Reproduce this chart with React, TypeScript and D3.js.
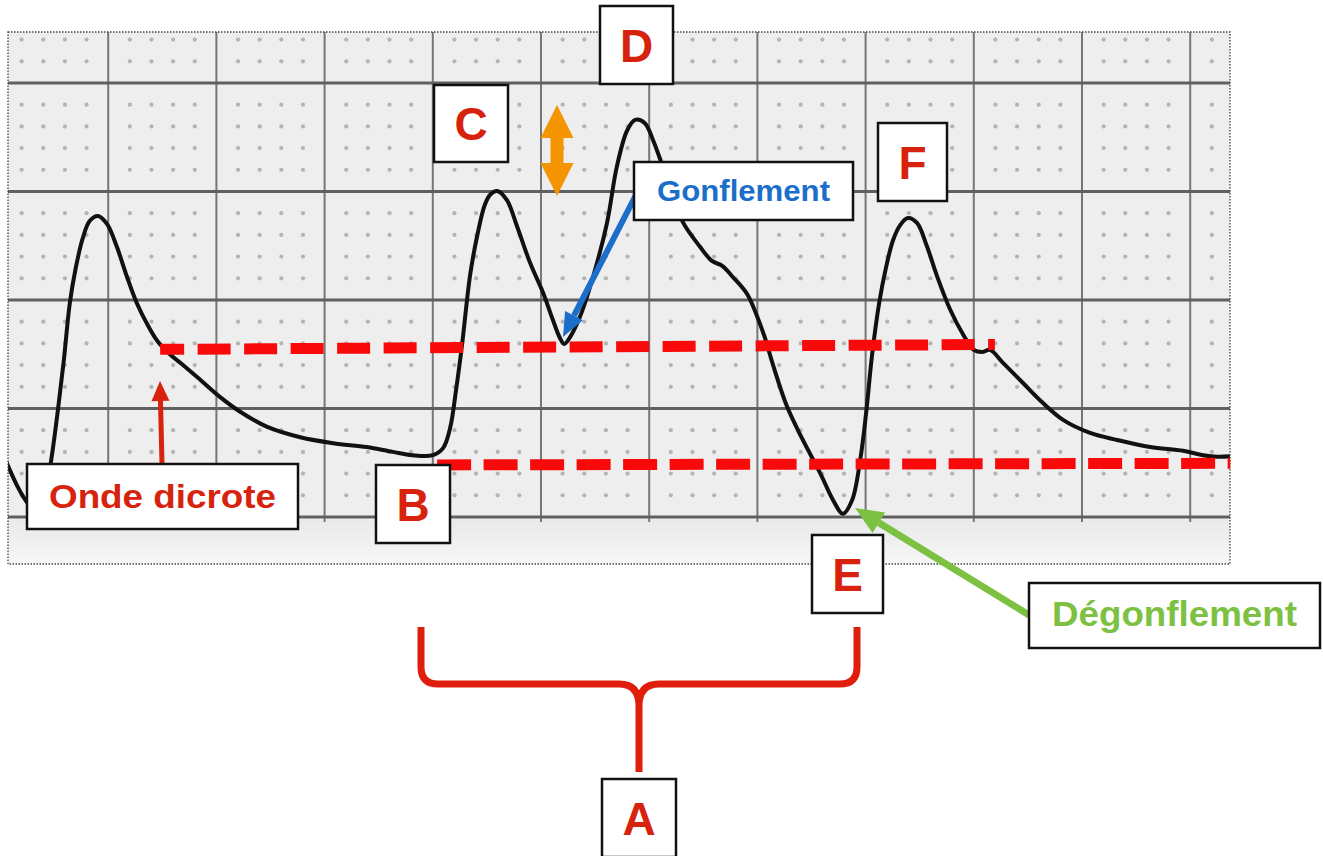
import React, { useEffect } from 'react';
import * as d3 from 'd3';

// ---------- DATA (time in s, pressure in mmHg) ----------
const time = [
  0.007, 0.015, 0.033, 0.052, 0.07, 0.085, 0.096, 0.107, 0.118, 0.129, 0.14, 0.153, 0.166, 0.181,
  0.198, 0.216, 0.235, 0.253, 0.274, 0.292, 0.314, 0.336, 0.37, 0.407, 0.444, 0.494, 0.555, 0.616,
  0.678, 0.726, 0.762, 0.8, 0.819, 0.832, 0.843, 0.854, 0.869, 0.882, 0.896, 0.906, 0.919, 0.937,
  0.956, 0.98, 1.004, 1.022, 1.035, 1.043, 1.054, 1.072, 1.096, 1.122, 1.14, 1.159, 1.174, 1.192,
  1.207, 1.224, 1.242, 1.262, 1.294, 1.316, 1.335, 1.355, 1.381, 1.399, 1.414, 1.429, 1.455, 1.484,
  1.516, 1.54, 1.558, 1.575, 1.59, 1.601, 1.612, 1.625, 1.638, 1.651, 1.664, 1.678, 1.695, 1.713,
  1.732, 1.756, 1.78, 1.8, 1.815, 1.83, 1.854, 1.891, 1.928, 1.965, 2.015, 2.065, 2.126, 2.187,
  2.224, 2.25, 2.277,
];
const pressure = [
  31.4, 29.4, 25.5, 22.4, 20.7, 25.0, 31.4, 39.7, 48.9, 59.4, 65.9, 71.4, 74.6, 75.5,
  74.0, 69.8, 64.2, 59.4, 55.2, 52.3, 50.0, 48.2, 45.3, 42.1, 39.4, 36.6, 34.7, 33.6,
  32.9, 32.0, 31.4, 31.4, 32.7, 36.4, 43.4, 51.7, 64.6, 71.8, 77.5, 79.4, 80.1, 78.4,
  73.5, 66.8, 61.3, 56.3, 53.0, 51.9, 53.2, 56.9, 64.2, 74.2, 84.5, 91.2, 93.2, 92.6,
  89.5, 84.9, 79.9, 74.4, 69.8, 67.2, 66.3, 64.2, 61.1, 57.1, 53.0, 48.0, 40.3, 34.2,
  28.1, 23.1, 20.6, 23.1, 30.5, 39.2, 49.9, 59.4, 66.1, 71.1, 73.8, 75.1, 74.2, 70.0,
  64.4, 58.3, 53.7, 50.8, 50.4, 50.8, 48.4, 44.7, 41.0, 37.9, 35.5, 34.2, 32.9, 32.2,
  31.4, 31.1, 31.2,
];
const majorTimeTicks = [0.2, 0.4, 0.6, 0.8, 1.0, 1.2, 1.4, 1.6, 1.8, 2.0, 2.2];
const majorPressureTicks = [20, 40, 60, 80, 100];
const upperRefTime = [0.296, 1.839];
const upperRefPressure = [50.9, 51.8];
const lowerRefTime = [0.808, 2.274];
const lowerRefPressure = [29.6, 29.9];
const letterLabels = ['A', 'B', 'C', 'D', 'E', 'F'];
const calloutLabels = ['Onde dicrote', 'Gonflement', 'Dégonflement'];

// ---------- LAYOUT ----------
const W = 1323;
const H = 856;
const frame = { x0: 8, y0: 32, x1: 1230, y1: 564, paperBottom: 520 };
const x = d3.scaleLinear().domain([0, 1]).range([0, 541]);
const y = d3.scaleLinear().domain([0, 120]).range([625.5, -25.5]);

const RED_TXT = '#d7230e';
const RED_DASH = '#f80a0a';
const BLUE = '#1c6ecb';
const GREEN = '#7cc142';
const ORANGE = '#f39400';

const letterBoxes: Record<string, { x: number; y: number; w: number; h: number }> = {
  A: { x: 602, y: 779, w: 74, h: 78 },
  B: { x: 376, y: 465, w: 74, h: 78 },
  C: { x: 434, y: 85, w: 74, h: 77 },
  D: { x: 600, y: 6, w: 73, h: 78 },
  E: { x: 812, y: 535, w: 71, h: 78 },
  F: { x: 878, y: 123, w: 69, h: 78 },
};
const calloutBoxes = [
  { x: 27, y: 464, w: 271, h: 65, color: RED_TXT, size: 33, len: 227, base: 508 },
  { x: 634, y: 162, w: 219, h: 58, color: BLUE, size: 30, len: 173, base: 201 },
  { x: 1029, y: 583, w: 291, h: 65, color: GREEN, size: 35, len: 245, base: 626 },
];

function arrowHead(x1: number, y1: number, x2: number, y2: number, len: number, wid: number) {
  const dx = x2 - x1, dy = y2 - y1;
  const L = Math.hypot(dx, dy);
  const ux = dx / L, uy = dy / L;
  const bx = x2 - ux * len, by = y2 - uy * len;
  const px = -uy * wid / 2, py = ux * wid / 2;
  return {
    head: `M${x2},${y2} L${bx + px},${by + py} L${bx - px},${by - py} Z`,
    bx, by,
  };
}

export default function App() {
  useEffect(() => {
    document.body.style.margin = '0';
  }, []);

  const line = d3
    .line<number>()
    .x((_, i) => x(time[i]))
    .y((_, i) => y(pressure[i]))
    .curve(d3.curveCatmullRom.alpha(0.5));
  const wave = line(time) || '';

  // minor dots
  const dotT = d3.range(1, 57).filter((i) => i % 5 !== 0).map((i) => i * 0.04).filter((t) => x(t) < frame.x1 - 2);
  const dotP = d3.range(6, 28).filter((j) => j % 5 !== 0).map((j) => j * 4).filter((p) => y(p) > frame.y0 + 2 && y(p) < frame.paperBottom);

  const blue = arrowHead(637, 193, 563, 337, 24, 20);
  const red = arrowHead(162, 464, 160, 381, 20, 18);
  const green = arrowHead(1029, 615, 855, 508, 28, 24);

  const ox = 557, oTop = 105, oBot = 196, oHalf = 16.5, oHead = 33, oShaft = 6.5;
  const orangePath = `M${ox},${oTop} L${ox + oHalf},${oTop + oHead} L${ox + oShaft},${oTop + oHead} L${ox + oShaft},${oBot - oHead} L${ox + oHalf},${oBot - oHead} L${ox},${oBot} L${ox - oHalf},${oBot - oHead} L${ox - oShaft},${oBot - oHead} L${ox - oShaft},${oTop + oHead} L${ox - oHalf},${oTop + oHead} Z`;

  const bracket =
    'M421,627 L421,667 Q421,684 438,684 L619,684 Q639,684 639,706 L639,772 ' +
    'M639,706 Q639,684 659,684 L840,684 Q857,684 857,667 L857,627';

  return (
    <svg width={W} height={H} style={{ display: 'block', background: '#ffffff' }} fontFamily="'Liberation Sans', Arial, sans-serif">
      <defs>
        <clipPath id="frameClip">
          <rect x={frame.x0} y={frame.y0} width={frame.x1 - frame.x0} height={frame.y1 - frame.y0} />
        </clipPath>
        <linearGradient id="bottomStrip" x1="0" y1="0" x2="0" y2="1">
          <stop offset="0" stopColor="#e9e9e9" />
          <stop offset="1" stopColor="#f7f7f7" />
        </linearGradient>
      </defs>

      <g clipPath="url(#frameClip)">
        <rect x={frame.x0} y={frame.y0} width={frame.x1 - frame.x0} height={frame.paperBottom - frame.y0} fill="#eeeeee" />
        <rect x={frame.x0} y={frame.paperBottom} width={frame.x1 - frame.x0} height={frame.y1 - frame.paperBottom} fill="url(#bottomStrip)" />
        {dotT.map((t) =>
          dotP.map((p) => <circle key={`${t}-${p}`} cx={x(t)} cy={y(p)} r={2.1} fill="#b4b4b4" />)
        )}
        {majorTimeTicks.map((t) => (
          <line key={`v${t}`} x1={x(t)} x2={x(t)} y1={frame.y0} y2={frame.paperBottom + 2} stroke="#767676" strokeWidth={2} />
        ))}
        {majorPressureTicks.map((p) => (
          <line key={`h${p}`} x1={frame.x0} x2={frame.x1} y1={y(p)} y2={y(p)} stroke="#606060" strokeWidth={2.8} />
        ))}
        <path d={wave} fill="none" stroke="#111" strokeWidth={4} strokeLinejoin="round" strokeLinecap="round" />
      </g>
      <rect x={frame.x0} y={frame.y0} width={frame.x1 - frame.x0} height={frame.y1 - frame.y0} fill="none" stroke="#444" strokeWidth={1.3} strokeDasharray="1.5 1.5" />

      {/* reference dashed lines */}
      <line x1={x(upperRefTime[0])} y1={y(upperRefPressure[0])} x2={x(upperRefTime[1])} y2={y(upperRefPressure[1])} stroke={RED_DASH} strokeWidth={11} strokeDasharray="33 13.5" strokeDashoffset={9} />
      <line x1={x(lowerRefTime[0])} y1={y(lowerRefPressure[0])} x2={x(lowerRefTime[1])} y2={y(lowerRefPressure[1])} stroke={RED_DASH} strokeWidth={11} strokeDasharray="34 12.5" />

      {/* orange double arrow */}
      <path d={orangePath} fill={ORANGE} />

      {/* arrows */}
      <line x1={637} y1={193} x2={blue.bx} y2={blue.by} stroke={BLUE} strokeWidth={6} />
      <path d={blue.head} fill={BLUE} />
      <line x1={162} y1={464} x2={red.bx} y2={red.by} stroke={RED_TXT} strokeWidth={5} />
      <path d={red.head} fill={RED_TXT} />
      <line x1={1029} y1={615} x2={green.bx} y2={green.by} stroke={GREEN} strokeWidth={7} />
      <path d={green.head} fill={GREEN} />

      {/* bracket */}
      <path d={bracket} fill="none" stroke="#e01e0c" strokeWidth={7} />

      {/* callout boxes */}
      {calloutLabels.map((label, i) => {
        const b = calloutBoxes[i];
        return (
          <g key={label}>
            <rect x={b.x} y={b.y} width={b.w} height={b.h} fill="#fff" stroke="#111" strokeWidth={2.5} />
            <text x={b.x + b.w / 2} y={b.base} textAnchor="middle" fontSize={b.size} fontWeight="bold" fill={b.color} textLength={b.len} lengthAdjust="spacingAndGlyphs">
              {label}
            </text>
          </g>
        );
      })}

      {/* letter boxes */}
      {letterLabels.map((l) => {
        const b = letterBoxes[l];
        return (
          <g key={l}>
            <rect x={b.x} y={b.y} width={b.w} height={b.h} fill="#fff" stroke="#111" strokeWidth={2.5} />
            <text x={b.x + b.w / 2} y={b.y + b.h / 2 + 16.5} textAnchor="middle" fontSize={46} fontWeight="bold" fill={RED_TXT}>
              {l}
            </text>
          </g>
        );
      })}
    </svg>
  );
}
